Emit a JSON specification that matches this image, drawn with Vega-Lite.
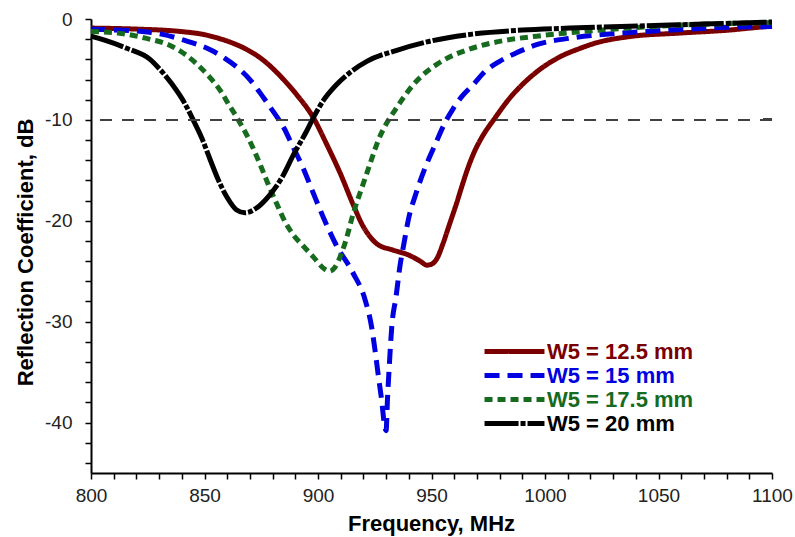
{
  "$schema": "https://vega.github.io/schema/vega-lite/v6.json",
  "width": 681,
  "height": 454,
  "autosize": "none",
  "padding": {"left": 91, "top": 19, "right": 23, "bottom": 64},
  "background": "white",
  "config": {"view": {"stroke": null}, "font": "Liberation Sans"},
  "data": {"values": [
    {"s": "W5 = 12.5 mm", "f": 800, "db": -0.9},
    {"s": "W5 = 12.5 mm", "f": 820, "db": -1.0},
    {"s": "W5 = 12.5 mm", "f": 840, "db": -1.25},
    {"s": "W5 = 12.5 mm", "f": 850, "db": -1.55},
    {"s": "W5 = 12.5 mm", "f": 856, "db": -1.9},
    {"s": "W5 = 12.5 mm", "f": 862, "db": -2.35},
    {"s": "W5 = 12.5 mm", "f": 868, "db": -2.95},
    {"s": "W5 = 12.5 mm", "f": 876, "db": -4.1},
    {"s": "W5 = 12.5 mm", "f": 884, "db": -5.8},
    {"s": "W5 = 12.5 mm", "f": 890.6, "db": -7.5},
    {"s": "W5 = 12.5 mm", "f": 898, "db": -9.8},
    {"s": "W5 = 12.5 mm", "f": 904, "db": -12.5},
    {"s": "W5 = 12.5 mm", "f": 910, "db": -15.4},
    {"s": "W5 = 12.5 mm", "f": 915.5, "db": -18.4},
    {"s": "W5 = 12.5 mm", "f": 920, "db": -20.6},
    {"s": "W5 = 12.5 mm", "f": 923, "db": -21.6},
    {"s": "W5 = 12.5 mm", "f": 926, "db": -22.3},
    {"s": "W5 = 12.5 mm", "f": 933, "db": -22.9},
    {"s": "W5 = 12.5 mm", "f": 940, "db": -23.4},
    {"s": "W5 = 12.5 mm", "f": 945, "db": -24.0},
    {"s": "W5 = 12.5 mm", "f": 948, "db": -24.4},
    {"s": "W5 = 12.5 mm", "f": 950, "db": -24.3},
    {"s": "W5 = 12.5 mm", "f": 952.5, "db": -23.7},
    {"s": "W5 = 12.5 mm", "f": 955, "db": -22.3},
    {"s": "W5 = 12.5 mm", "f": 958, "db": -20.3},
    {"s": "W5 = 12.5 mm", "f": 961, "db": -18.3},
    {"s": "W5 = 12.5 mm", "f": 963.5, "db": -16.5},
    {"s": "W5 = 12.5 mm", "f": 966, "db": -14.8},
    {"s": "W5 = 12.5 mm", "f": 969, "db": -13.1},
    {"s": "W5 = 12.5 mm", "f": 972, "db": -11.8},
    {"s": "W5 = 12.5 mm", "f": 978, "db": -9.8},
    {"s": "W5 = 12.5 mm", "f": 985, "db": -7.7},
    {"s": "W5 = 12.5 mm", "f": 990, "db": -6.5},
    {"s": "W5 = 12.5 mm", "f": 996, "db": -5.3},
    {"s": "W5 = 12.5 mm", "f": 1007, "db": -3.7},
    {"s": "W5 = 12.5 mm", "f": 1015, "db": -2.95},
    {"s": "W5 = 12.5 mm", "f": 1022, "db": -2.4},
    {"s": "W5 = 12.5 mm", "f": 1037, "db": -1.75},
    {"s": "W5 = 12.5 mm", "f": 1059, "db": -1.4},
    {"s": "W5 = 12.5 mm", "f": 1081, "db": -1.1},
    {"s": "W5 = 12.5 mm", "f": 1095, "db": -0.8},
    {"s": "W5 = 12.5 mm", "f": 1100, "db": -0.7},

    {"s": "W5 = 15 mm", "f": 800, "db": -1.0},
    {"s": "W5 = 15 mm", "f": 805, "db": -1.05},
    {"s": "W5 = 15 mm", "f": 818, "db": -1.15},
    {"s": "W5 = 15 mm", "f": 831, "db": -1.5},
    {"s": "W5 = 15 mm", "f": 841, "db": -2.1},
    {"s": "W5 = 15 mm", "f": 853, "db": -3.1},
    {"s": "W5 = 15 mm", "f": 859, "db": -3.9},
    {"s": "W5 = 15 mm", "f": 865, "db": -4.9},
    {"s": "W5 = 15 mm", "f": 870, "db": -6.0},
    {"s": "W5 = 15 mm", "f": 874.4, "db": -7.3},
    {"s": "W5 = 15 mm", "f": 878.5, "db": -8.6},
    {"s": "W5 = 15 mm", "f": 882.5, "db": -9.9},
    {"s": "W5 = 15 mm", "f": 885, "db": -10.8},
    {"s": "W5 = 15 mm", "f": 888.4, "db": -12.4},
    {"s": "W5 = 15 mm", "f": 893.5, "db": -14.8},
    {"s": "W5 = 15 mm", "f": 898, "db": -17.3},
    {"s": "W5 = 15 mm", "f": 903, "db": -20.0},
    {"s": "W5 = 15 mm", "f": 908, "db": -22.4},
    {"s": "W5 = 15 mm", "f": 915.5, "db": -25.2},
    {"s": "W5 = 15 mm", "f": 920.7, "db": -27.8},
    {"s": "W5 = 15 mm", "f": 923.6, "db": -30.5},
    {"s": "W5 = 15 mm", "f": 925.1, "db": -32.8},
    {"s": "W5 = 15 mm", "f": 926.6, "db": -35.4},
    {"s": "W5 = 15 mm", "f": 928, "db": -37.7},
    {"s": "W5 = 15 mm", "f": 929.4, "db": -40.4},
    {"s": "W5 = 15 mm", "f": 930, "db": -40.8},
    {"s": "W5 = 15 mm", "f": 930.6, "db": -37.7},
    {"s": "W5 = 15 mm", "f": 931.4, "db": -34.4},
    {"s": "W5 = 15 mm", "f": 932.5, "db": -30.5},
    {"s": "W5 = 15 mm", "f": 934.4, "db": -27.5},
    {"s": "W5 = 15 mm", "f": 936.1, "db": -24.5},
    {"s": "W5 = 15 mm", "f": 937.9, "db": -22.2},
    {"s": "W5 = 15 mm", "f": 939.8, "db": -19.9},
    {"s": "W5 = 15 mm", "f": 943.3, "db": -17.2},
    {"s": "W5 = 15 mm", "f": 947.1, "db": -14.8},
    {"s": "W5 = 15 mm", "f": 951.5, "db": -12.5},
    {"s": "W5 = 15 mm", "f": 955.9, "db": -10.3},
    {"s": "W5 = 15 mm", "f": 959.5, "db": -8.9},
    {"s": "W5 = 15 mm", "f": 963.3, "db": -7.7},
    {"s": "W5 = 15 mm", "f": 968.4, "db": -6.5},
    {"s": "W5 = 15 mm", "f": 973.6, "db": -5.2},
    {"s": "W5 = 15 mm", "f": 980, "db": -4.2},
    {"s": "W5 = 15 mm", "f": 987, "db": -3.4},
    {"s": "W5 = 15 mm", "f": 997, "db": -2.5},
    {"s": "W5 = 15 mm", "f": 1011, "db": -1.9},
    {"s": "W5 = 15 mm", "f": 1033, "db": -1.4},
    {"s": "W5 = 15 mm", "f": 1055, "db": -1.1},
    {"s": "W5 = 15 mm", "f": 1077, "db": -0.85},
    {"s": "W5 = 15 mm", "f": 1100, "db": -0.75},

    {"s": "W5 = 17.5 mm", "f": 800, "db": -1.25},
    {"s": "W5 = 17.5 mm", "f": 812, "db": -1.4},
    {"s": "W5 = 17.5 mm", "f": 824, "db": -1.9},
    {"s": "W5 = 17.5 mm", "f": 835.5, "db": -2.7},
    {"s": "W5 = 17.5 mm", "f": 841.4, "db": -3.5},
    {"s": "W5 = 17.5 mm", "f": 847.3, "db": -4.6},
    {"s": "W5 = 17.5 mm", "f": 852.4, "db": -5.8},
    {"s": "W5 = 17.5 mm", "f": 857.6, "db": -7.3},
    {"s": "W5 = 17.5 mm", "f": 860.5, "db": -8.4},
    {"s": "W5 = 17.5 mm", "f": 864.9, "db": -10.0},
    {"s": "W5 = 17.5 mm", "f": 869.3, "db": -11.8},
    {"s": "W5 = 17.5 mm", "f": 872.2, "db": -13.2},
    {"s": "W5 = 17.5 mm", "f": 875.2, "db": -14.8},
    {"s": "W5 = 17.5 mm", "f": 878.1, "db": -16.4},
    {"s": "W5 = 17.5 mm", "f": 881.8, "db": -18.3},
    {"s": "W5 = 17.5 mm", "f": 885.5, "db": -20.1},
    {"s": "W5 = 17.5 mm", "f": 889.5, "db": -21.5},
    {"s": "W5 = 17.5 mm", "f": 893.5, "db": -22.5},
    {"s": "W5 = 17.5 mm", "f": 898, "db": -23.6},
    {"s": "W5 = 17.5 mm", "f": 903, "db": -24.8},
    {"s": "W5 = 17.5 mm", "f": 905, "db": -25.0},
    {"s": "W5 = 17.5 mm", "f": 907.5, "db": -24.6},
    {"s": "W5 = 17.5 mm", "f": 910.4, "db": -23.2},
    {"s": "W5 = 17.5 mm", "f": 912.6, "db": -21.7},
    {"s": "W5 = 17.5 mm", "f": 915.5, "db": -19.3},
    {"s": "W5 = 17.5 mm", "f": 919.2, "db": -16.8},
    {"s": "W5 = 17.5 mm", "f": 921.5, "db": -15.3},
    {"s": "W5 = 17.5 mm", "f": 923.6, "db": -13.9},
    {"s": "W5 = 17.5 mm", "f": 926.6, "db": -12.0},
    {"s": "W5 = 17.5 mm", "f": 930.3, "db": -10.3},
    {"s": "W5 = 17.5 mm", "f": 934, "db": -9.0},
    {"s": "W5 = 17.5 mm", "f": 937.6, "db": -7.8},
    {"s": "W5 = 17.5 mm", "f": 942, "db": -6.5},
    {"s": "W5 = 17.5 mm", "f": 946.4, "db": -5.5},
    {"s": "W5 = 17.5 mm", "f": 952.3, "db": -4.5},
    {"s": "W5 = 17.5 mm", "f": 958.1, "db": -3.75},
    {"s": "W5 = 17.5 mm", "f": 964, "db": -3.2},
    {"s": "W5 = 17.5 mm", "f": 970, "db": -2.75},
    {"s": "W5 = 17.5 mm", "f": 981.6, "db": -2.15},
    {"s": "W5 = 17.5 mm", "f": 996.3, "db": -1.7},
    {"s": "W5 = 17.5 mm", "f": 1011, "db": -1.35},
    {"s": "W5 = 17.5 mm", "f": 1033, "db": -0.95},
    {"s": "W5 = 17.5 mm", "f": 1055, "db": -0.65},
    {"s": "W5 = 17.5 mm", "f": 1080, "db": -0.45},
    {"s": "W5 = 17.5 mm", "f": 1100, "db": -0.35},

    {"s": "W5 = 20 mm", "f": 800, "db": -1.7},
    {"s": "W5 = 20 mm", "f": 806, "db": -2.1},
    {"s": "W5 = 20 mm", "f": 815.7, "db": -2.9},
    {"s": "W5 = 20 mm", "f": 826, "db": -4.0},
    {"s": "W5 = 20 mm", "f": 830, "db": -4.9},
    {"s": "W5 = 20 mm", "f": 835.5, "db": -6.4},
    {"s": "W5 = 20 mm", "f": 841.4, "db": -8.4},
    {"s": "W5 = 20 mm", "f": 845, "db": -10.0},
    {"s": "W5 = 20 mm", "f": 848.8, "db": -11.8},
    {"s": "W5 = 20 mm", "f": 852.6, "db": -14.0},
    {"s": "W5 = 20 mm", "f": 856, "db": -15.9},
    {"s": "W5 = 20 mm", "f": 860, "db": -17.7},
    {"s": "W5 = 20 mm", "f": 864, "db": -18.9},
    {"s": "W5 = 20 mm", "f": 867.8, "db": -19.2},
    {"s": "W5 = 20 mm", "f": 873.7, "db": -18.6},
    {"s": "W5 = 20 mm", "f": 878.5, "db": -17.5},
    {"s": "W5 = 20 mm", "f": 884.4, "db": -15.6},
    {"s": "W5 = 20 mm", "f": 889.1, "db": -13.5},
    {"s": "W5 = 20 mm", "f": 895, "db": -11.1},
    {"s": "W5 = 20 mm", "f": 897.9, "db": -9.8},
    {"s": "W5 = 20 mm", "f": 902.3, "db": -8.1},
    {"s": "W5 = 20 mm", "f": 908.2, "db": -6.5},
    {"s": "W5 = 20 mm", "f": 914.1, "db": -5.3},
    {"s": "W5 = 20 mm", "f": 921.5, "db": -4.2},
    {"s": "W5 = 20 mm", "f": 934.7, "db": -3.1},
    {"s": "W5 = 20 mm", "f": 949.3, "db": -2.2},
    {"s": "W5 = 20 mm", "f": 968, "db": -1.5},
    {"s": "W5 = 20 mm", "f": 990, "db": -1.1},
    {"s": "W5 = 20 mm", "f": 1011, "db": -0.9},
    {"s": "W5 = 20 mm", "f": 1055, "db": -0.6},
    {"s": "W5 = 20 mm", "f": 1100, "db": -0.3}
  ]},
  "resolve": {"axis": {"y": "independent"}},
  "layer": [
    {
      "mark": {"type": "line", "strokeWidth": 5, "interpolate": "monotone", "strokeCap": "butt"},
      "encoding": {
        "x": {
          "field": "f", "type": "quantitative",
          "scale": {"domain": [800, 1100], "nice": false, "zero": false},
          "axis": {
            "orient": "bottom",
            "title": "Frequency, MHz",
            "values": [800,810,820,830,840,850,860,870,880,890,900,910,920,930,940,950,960,970,980,990,1000,1010,1020,1030,1040,1050,1060,1070,1080,1090,1100],
            "labelExpr": "datum.value % 50 === 0 ? '' + datum.value : ''",
            "ticks": true, "tickSize": 6,
            "tickColor": "black", "tickWidth": 1.5,
            "grid": false,
            "domainColor": "black", "domainWidth": 2,
            "labelFontSize": 19,
            "labelColor": "#222222", "labelPadding": 7,
            "labelFlush": false, "labelOverlap": false,
            "titleFontSize": 22, "titleFontWeight": "bold", "titleColor": "black",
            "titleX": 340, "titleY": 57, "titleBaseline": "alphabetic"
          }
        },
        "y": {
          "field": "db", "type": "quantitative",
          "scale": {"domain": [-45, 0], "nice": false, "zero": false},
          "axis": {
            "orient": "left",
            "title": "Reflection Coefficient, dB",
            "values": [-44,-42,-40,-38,-36,-34,-32,-30,-28,-26,-24,-22,-20,-18,-16,-14,-12,-10,-8,-6,-4,-2,0],
            "labelExpr": "datum.value % 10 === 0 ? '' + datum.value : ''",
            "ticks": true, "tickSize": 6,
            "tickColor": "black", "tickWidth": 1.5,
            "grid": false,
            "domainColor": "black", "domainWidth": 2,
            "labelFontSize": 19,
            "labelColor": "#222222", "labelPadding": 13,
            "labelFlush": false, "labelOverlap": false,
            "titleFontSize": 22, "titleFontWeight": "bold", "titleColor": "black",
            "titleX": -59, "titleY": 233, "titleBaseline": "alphabetic"
          }
        },
        "color": {
          "field": "s", "type": "nominal",
          "scale": {"domain": ["W5 = 12.5 mm", "W5 = 15 mm", "W5 = 17.5 mm", "W5 = 20 mm"],
                    "range": ["#7A0000", "#0000E0", "#176B1E", "#000000"]},
          "legend": {
            "title": null, "orient": "none", "legendX": 412, "legendY": 321,
            "symbolType": "M-3.33,0H3.33", "symbolSize": 324, "symbolStrokeWidth": 5,
            "labelFontSize": 22, "labelFontWeight": "bold", "labelOffset": 21, "labelLimit": 400,
            "rowPadding": 1, "padding": 0,
            "encode": {"labels": {"update": {"fill": {"scale": "color", "field": "value"}}}}
          }
        },
        "strokeDash": {
          "field": "s", "type": "nominal",
          "scale": {"domain": ["W5 = 12.5 mm", "W5 = 15 mm", "W5 = 17.5 mm", "W5 = 20 mm"],
                    "range": [[1, 0], [15, 8], [8, 5], [34, 2, 5, 2]]},
          "legend": {
            "title": null, "orient": "none", "legendX": 412, "legendY": 321,
            "symbolType": "M-3.33,0H3.33", "symbolSize": 324, "symbolStrokeWidth": 5,
            "labelFontSize": 22, "labelFontWeight": "bold", "labelOffset": 21, "labelLimit": 400,
            "rowPadding": 1, "padding": 0,
            "encode": {"labels": {"update": {"fill": {"scale": "color", "field": "value"}}}}
          }
        }
      }
    },
    {
      "mark": {"type": "rule", "strokeDash": [12, 10], "color": "#404040", "strokeWidth": 2},
      "encoding": {"y": {"datum": -10, "axis": null}}
    }
  ]
}
